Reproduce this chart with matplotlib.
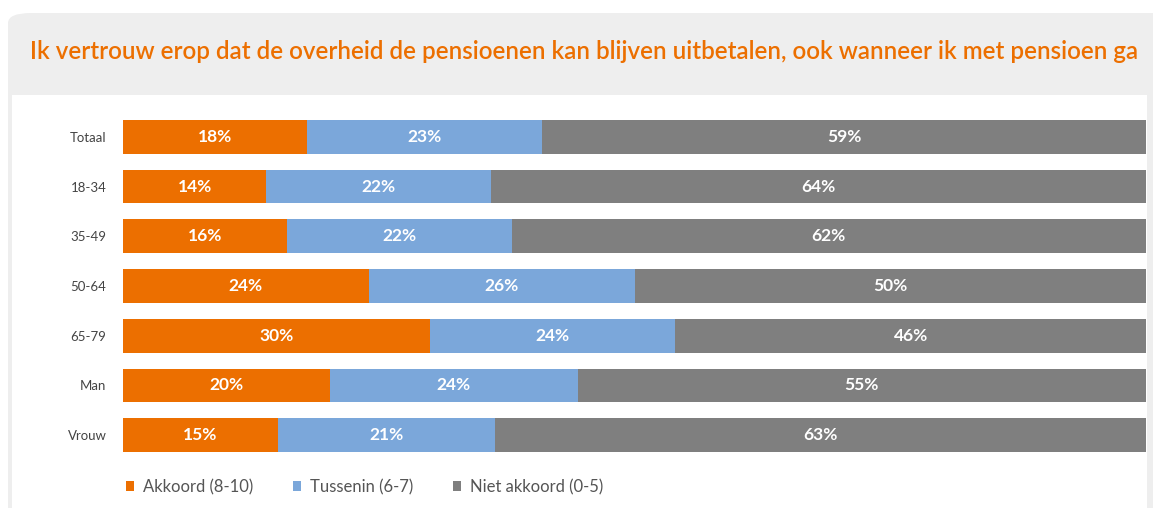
import matplotlib
matplotlib.use("Agg")
import matplotlib.pyplot as plt
import numpy as np
from matplotlib.patches import FancyBboxPatch, Rectangle, Patch

# ── Data ──────────────────────────────────────────────────────────────────────
categories = ["Totaal", "18-34", "35-49", "50-64", "65-79", "Man", "Vrouw"]
akkoord = [18, 14, 16, 24, 30, 20, 15]
tussenin = [23, 22, 22, 26, 24, 24, 21]
niet_akkoord = [59, 64, 62, 50, 46, 55, 63]
series_names = ["Akkoord (8-10)", "Tussenin (6-7)", "Niet akkoord (0-5)"]

title = ("Ik vertrouw erop dat de overheid de pensioenen kan blijven "
         "uitbetalen, ook wanneer ik met pensioen ga")

COLORS = ["#EC6F00", "#7BA7DA", "#7F7F7F"]
W, H = 1153, 508

plt.rcParams["font.family"] = ["Lato", "DejaVu Sans"]

fig = plt.figure(figsize=(W / 100, H / 100), dpi=100)
fig.patch.set_facecolor("white")

# card background (grey title band + white panel)
card = FancyBboxPatch((8 / W, -0.1), 1.2, (H - 13) / H + 0.1,
                      boxstyle="round,pad=0,rounding_size=0.02",
                      transform=fig.transFigure, facecolor="#EEEEEE",
                      edgecolor="none", zorder=-2)
fig.patches.append(card)
panel = Rectangle((12 / W, -0.1), (1147 - 12) / W, (H - 95) / H + 0.1,
                  transform=fig.transFigure, facecolor="white",
                  edgecolor="none", zorder=-1)
fig.patches.append(panel)

fig.text(30 / W, 1 - 59 / H, title, color="#EC6F00", fontsize=17.4,
         fontweight="semibold", ha="left", va="baseline")

# ── Bars ──────────────────────────────────────────────────────────────────────
ax = fig.add_axes([123 / W, 1 - 460 / H, (1146 - 123) / W, 348 / H])
ax.set_facecolor("none")
ax.set_zorder(2)

data = np.array([akkoord, tussenin, niet_akkoord], dtype=float)
totals = data.sum(axis=0)
shares = data / totals  # rows fill the full width like the original
y = np.arange(len(categories))
left = np.zeros(len(categories))
for vals, share, color, name in zip(data, shares, COLORS, series_names):
    ax.barh(y, share, left=left, height=0.68, color=color,
            edgecolor="none", label=name)
    for yi, l, s, v in zip(y, left, share, vals):
        ax.text(l + s / 2, yi, f"{int(v)}%", color="white", fontsize=12.5,
                fontweight="bold", ha="center", va="center")
    left = left + share

ax.set_xlim(0, 1)
ax.set_ylim(len(categories) - 0.5, -0.5)
ax.set_yticks(y)
ax.set_yticklabels(categories, fontsize=9.5, color="#444444")
ax.tick_params(axis="y", length=0, pad=12)
ax.set_xticks([])
for s in ax.spines.values():
    s.set_visible(False)

handles = [Patch(facecolor=c, edgecolor="none") for c in COLORS]
leg = fig.legend(handles, series_names, loc="center left",
                 bbox_to_anchor=(111 / W, 1 - 487 / H), ncol=3, frameon=False,
                 fontsize=12, labelcolor="#555555", handlelength=0.5,
                 handleheight=0.5, handletextpad=0.5, columnspacing=2.4)
leg.set_zorder(3)

fig.savefig("out.png", dpi=100, facecolor=fig.get_facecolor())
